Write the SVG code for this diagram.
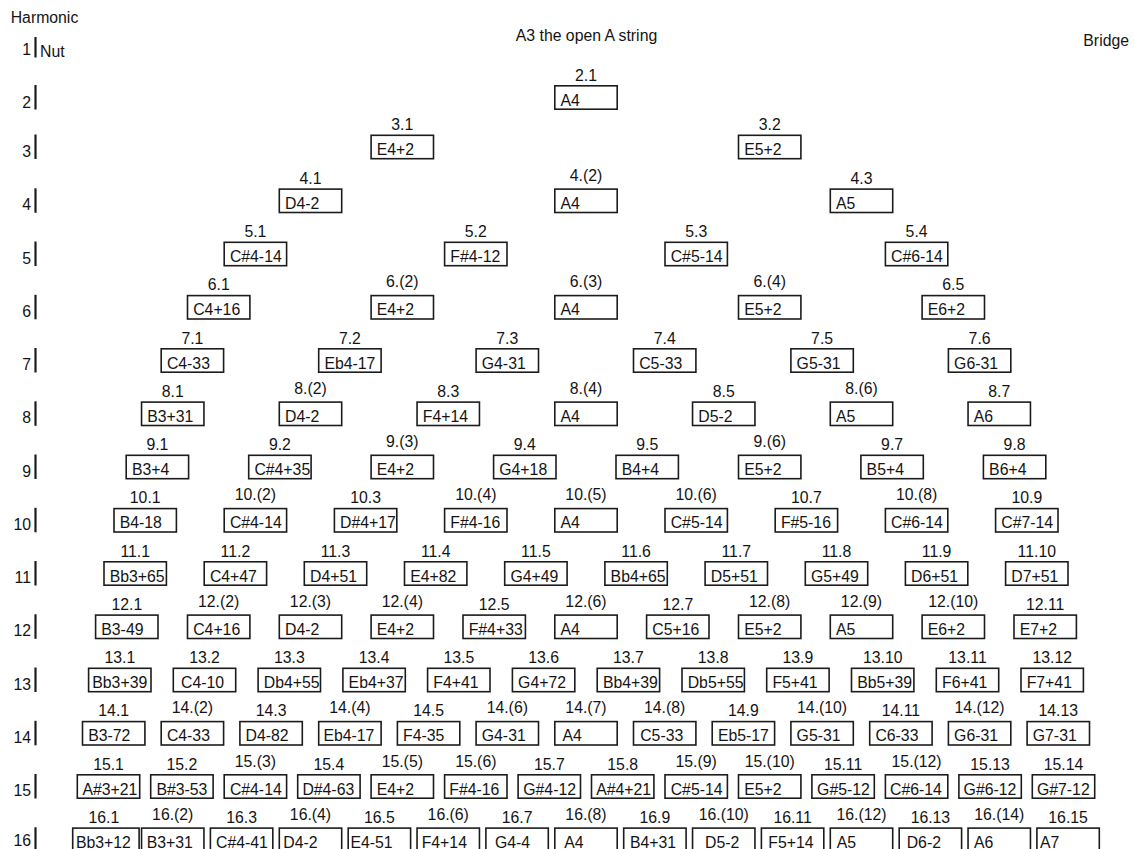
<svg xmlns="http://www.w3.org/2000/svg" width="1135" height="849" viewBox="0 0 1135 849">
<style>
text{font-family:"Liberation Sans",Arial,Helvetica,sans-serif;font-size:15.8px;fill:#141414}
rect{fill:none;stroke:#1c1c1c;stroke-width:1.6}
.l{text-anchor:middle}
.r{text-anchor:end}
line{stroke:#1c1c1c;stroke-width:2.2}
</style>
<rect x="0" y="0" width="1135" height="849" style="fill:#fff;stroke:none"/>
<g id="header">
<text x="10.7" y="22.5">Harmonic</text>
<text class="l" x="586.5" y="40.7">A3 the open A string</text>
<text class="r" x="1129" y="46.3">Bridge</text>
<text x="40" y="56.7">Nut</text>
</g>
<g id="rows">
<g id="row1"><text class="r" x="31" y="55">1</text><line x1="35.5" y1="37" x2="35.5" y2="57.5"/></g>
<g id="row2"><text class="r" x="31" y="107.5">2</text><line x1="35.5" y1="85" x2="35.5" y2="109.5"/></g>
<g id="row3"><text class="r" x="31" y="156.5">3</text><line x1="35.5" y1="134.5" x2="35.5" y2="159"/></g>
<g id="row4"><text class="r" x="31" y="210.3">4</text><line x1="35.5" y1="188.3" x2="35.5" y2="212.8"/></g>
<g id="row5"><text class="r" x="31" y="263.5">5</text><line x1="35.5" y1="241.5" x2="35.5" y2="266"/></g>
<g id="row6"><text class="r" x="31" y="316.8">6</text><line x1="35.5" y1="294.8" x2="35.5" y2="319.3"/></g>
<g id="row7"><text class="r" x="31" y="370">7</text><line x1="35.5" y1="348" x2="35.5" y2="372.5"/></g>
<g id="row8"><text class="r" x="31" y="423.3">8</text><line x1="35.5" y1="401.3" x2="35.5" y2="425.8"/></g>
<g id="row9"><text class="r" x="31" y="476.5">9</text><line x1="35.5" y1="454.5" x2="35.5" y2="479"/></g>
<g id="row10"><text class="r" x="31" y="529.8">10</text><line x1="35.5" y1="507.8" x2="35.5" y2="532.3"/></g>
<g id="row11"><text class="r" x="31" y="583">11</text><line x1="35.5" y1="561" x2="35.5" y2="585.5"/></g>
<g id="row12"><text class="r" x="31" y="636.3">12</text><line x1="35.5" y1="614.3" x2="35.5" y2="638.8"/></g>
<g id="row13"><text class="r" x="31" y="689.5">13</text><line x1="35.5" y1="667.5" x2="35.5" y2="692"/></g>
<g id="row14"><text class="r" x="31" y="742.8">14</text><line x1="35.5" y1="720.8" x2="35.5" y2="745.3"/></g>
<g id="row15"><text class="r" x="31" y="795.5">15</text><line x1="35.5" y1="774" x2="35.5" y2="798.5"/></g>
<g id="row16"><text class="r" x="31" y="846.3">16</text><line x1="35.5" y1="827.3" x2="35.5" y2="851.8"/></g>
</g>
<g id="nodes">
<g id="n2-1"><rect x="554.8" y="85.8" width="62.4" height="23.4"/><text class="l" x="586" y="80.5">2.1</text><text x="560.5" y="105.5">A4</text></g>

<g id="n3-1"><rect x="371.1" y="135.3" width="62.4" height="23.4"/><text class="l" x="402.3" y="130">3.1</text><text x="376.8" y="155">E4+2</text></g>
<g id="n3-2"><rect x="738.5" y="135.3" width="62.4" height="23.4"/><text class="l" x="769.7" y="130">3.2</text><text x="744.2" y="155">E5+2</text></g>

<g id="n4-1"><rect x="279.3" y="189.1" width="62.4" height="23.4"/><text class="l" x="310.5" y="183.8">4.1</text><text x="285" y="208.8">D4-2</text></g>
<g id="n4-2"><rect x="554.8" y="189.1" width="62.4" height="23.4"/><text class="l" x="586" y="180.8">4.(2)</text><text x="560.5" y="208.8">A4</text></g>
<g id="n4-3"><rect x="830.3" y="189.1" width="62.4" height="23.4"/><text class="l" x="861.5" y="183.8">4.3</text><text x="836" y="208.8">A5</text></g>

<g id="n5-1"><rect x="224.2" y="242.3" width="62.4" height="23.4"/><text class="l" x="255.4" y="237">5.1</text><text x="229.9" y="262">C#4-14</text></g>
<g id="n5-2"><rect x="444.6" y="242.3" width="62.4" height="23.4"/><text class="l" x="475.8" y="237">5.2</text><text x="450.3" y="262">F#4-12</text></g>
<g id="n5-3"><rect x="665" y="242.3" width="62.4" height="23.4"/><text class="l" x="696.2" y="237">5.3</text><text x="670.7" y="262">C#5-14</text></g>
<g id="n5-4"><rect x="885.4" y="242.3" width="62.4" height="23.4"/><text class="l" x="916.6" y="237">5.4</text><text x="891.1" y="262">C#6-14</text></g>

<g id="n6-1"><rect x="187.5" y="295.6" width="62.4" height="23.4"/><text class="l" x="218.7" y="290.3">6.1</text><text x="193.2" y="315.3">C4+16</text></g>
<g id="n6-2"><rect x="371.1" y="295.6" width="62.4" height="23.4"/><text class="l" x="402.3" y="287.3">6.(2)</text><text x="376.8" y="315.3">E4+2</text></g>
<g id="n6-3"><rect x="554.8" y="295.6" width="62.4" height="23.4"/><text class="l" x="586" y="287.3">6.(3)</text><text x="560.5" y="315.3">A4</text></g>
<g id="n6-4"><rect x="738.5" y="295.6" width="62.4" height="23.4"/><text class="l" x="769.7" y="287.3">6.(4)</text><text x="744.2" y="315.3">E5+2</text></g>
<g id="n6-5"><rect x="922.1" y="295.6" width="62.4" height="23.4"/><text class="l" x="953.3" y="290.3">6.5</text><text x="927.8" y="315.3">E6+2</text></g>

<g id="n7-1"><rect x="161.2" y="348.8" width="62.4" height="23.4"/><text class="l" x="192.4" y="343.5">7.1</text><text x="166.9" y="368.5">C4-33</text></g>
<g id="n7-2"><rect x="318.7" y="348.8" width="62.4" height="23.4"/><text class="l" x="349.9" y="343.5">7.2</text><text x="324.4" y="368.5">Eb4-17</text></g>
<g id="n7-3"><rect x="476.1" y="348.8" width="62.4" height="23.4"/><text class="l" x="507.3" y="343.5">7.3</text><text x="481.8" y="368.5">G4-31</text></g>
<g id="n7-4"><rect x="633.5" y="348.8" width="62.4" height="23.4"/><text class="l" x="664.7" y="343.5">7.4</text><text x="639.2" y="368.5">C5-33</text></g>
<g id="n7-5"><rect x="790.9" y="348.8" width="62.4" height="23.4"/><text class="l" x="822.1" y="343.5">7.5</text><text x="796.6" y="368.5">G5-31</text></g>
<g id="n7-6"><rect x="948.4" y="348.8" width="62.4" height="23.4"/><text class="l" x="979.6" y="343.5">7.6</text><text x="954.1" y="368.5">G6-31</text></g>

<g id="n8-1"><rect x="141.55" y="402.1" width="62.4" height="23.4"/><text class="l" x="172.75" y="396.8">8.1</text><text x="147.25" y="421.8">B3+31</text></g>
<g id="n8-2"><rect x="279.3" y="402.1" width="62.4" height="23.4"/><text class="l" x="310.5" y="393.8">8.(2)</text><text x="285" y="421.8">D4-2</text></g>
<g id="n8-3"><rect x="417.05" y="402.1" width="62.4" height="23.4"/><text class="l" x="448.25" y="396.8">8.3</text><text x="422.75" y="421.8">F4+14</text></g>
<g id="n8-4"><rect x="554.8" y="402.1" width="62.4" height="23.4"/><text class="l" x="586" y="393.8">8.(4)</text><text x="560.5" y="421.8">A4</text></g>
<g id="n8-5"><rect x="692.55" y="402.1" width="62.4" height="23.4"/><text class="l" x="723.75" y="396.8">8.5</text><text x="698.25" y="421.8">D5-2</text></g>
<g id="n8-6"><rect x="830.3" y="402.1" width="62.4" height="23.4"/><text class="l" x="861.5" y="393.8">8.(6)</text><text x="836" y="421.8">A5</text></g>
<g id="n8-7"><rect x="968.05" y="402.1" width="62.4" height="23.4"/><text class="l" x="999.25" y="396.8">8.7</text><text x="973.75" y="421.8">A6</text></g>

<g id="n9-1"><rect x="126.2" y="455.3" width="62.4" height="23.4"/><text class="l" x="157.4" y="450">9.1</text><text x="131.9" y="475">B3+4</text></g>
<g id="n9-2"><rect x="248.7" y="455.3" width="62.4" height="23.4"/><text class="l" x="279.9" y="450">9.2</text><text x="254.4" y="475">C#4+35</text></g>
<g id="n9-3"><rect x="371.1" y="455.3" width="62.4" height="23.4"/><text class="l" x="402.3" y="447">9.(3)</text><text x="376.8" y="475">E4+2</text></g>
<g id="n9-4"><rect x="493.6" y="455.3" width="62.4" height="23.4"/><text class="l" x="524.8" y="450">9.4</text><text x="499.3" y="475">G4+18</text></g>
<g id="n9-5"><rect x="616" y="455.3" width="62.4" height="23.4"/><text class="l" x="647.2" y="450">9.5</text><text x="621.7" y="475">B4+4</text></g>
<g id="n9-6"><rect x="738.5" y="455.3" width="62.4" height="23.4"/><text class="l" x="769.7" y="447">9.(6)</text><text x="744.2" y="475">E5+2</text></g>
<g id="n9-7"><rect x="860.9" y="455.3" width="62.4" height="23.4"/><text class="l" x="892.1" y="450">9.7</text><text x="866.6" y="475">B5+4</text></g>
<g id="n9-8"><rect x="983.4" y="455.3" width="62.4" height="23.4"/><text class="l" x="1014.6" y="450">9.8</text><text x="989.1" y="475">B6+4</text></g>

<g id="n10-1"><rect x="114" y="508.6" width="62.4" height="23.4"/><text class="l" x="145.2" y="503.3">10.1</text><text x="119.7" y="528.3">B4-18</text></g>
<g id="n10-2"><rect x="224.2" y="508.6" width="62.4" height="23.4"/><text class="l" x="255.4" y="500.3">10.(2)</text><text x="229.9" y="528.3">C#4-14</text></g>
<g id="n10-3"><rect x="334.4" y="508.6" width="62.4" height="23.4"/><text class="l" x="365.6" y="503.3">10.3</text><text x="340.1" y="528.3">D#4+17</text></g>
<g id="n10-4"><rect x="444.6" y="508.6" width="62.4" height="23.4"/><text class="l" x="475.8" y="500.3">10.(4)</text><text x="450.3" y="528.3">F#4-16</text></g>
<g id="n10-5"><rect x="554.8" y="508.6" width="62.4" height="23.4"/><text class="l" x="586" y="500.3">10.(5)</text><text x="560.5" y="528.3">A4</text></g>
<g id="n10-6"><rect x="665" y="508.6" width="62.4" height="23.4"/><text class="l" x="696.2" y="500.3">10.(6)</text><text x="670.7" y="528.3">C#5-14</text></g>
<g id="n10-7"><rect x="775.2" y="508.6" width="62.4" height="23.4"/><text class="l" x="806.4" y="503.3">10.7</text><text x="780.9" y="528.3">F#5-16</text></g>
<g id="n10-8"><rect x="885.4" y="508.6" width="62.4" height="23.4"/><text class="l" x="916.6" y="500.3">10.(8)</text><text x="891.1" y="528.3">C#6-14</text></g>
<g id="n10-9"><rect x="995.6" y="508.6" width="62.4" height="23.4"/><text class="l" x="1026.8" y="503.3">10.9</text><text x="1001.3" y="528.3">C#7-14</text></g>

<g id="n11-1"><rect x="104" y="561.8" width="62.4" height="23.4"/><text class="l" x="135.2" y="556.5">11.1</text><text x="109.7" y="581.5">Bb3+65</text></g>
<g id="n11-2"><rect x="204.2" y="561.8" width="62.4" height="23.4"/><text class="l" x="235.4" y="556.5">11.2</text><text x="209.9" y="581.5">C4+47</text></g>
<g id="n11-3"><rect x="304.3" y="561.8" width="62.4" height="23.4"/><text class="l" x="335.5" y="556.5">11.3</text><text x="310" y="581.5">D4+51</text></g>
<g id="n11-4"><rect x="404.5" y="561.8" width="62.4" height="23.4"/><text class="l" x="435.7" y="556.5">11.4</text><text x="410.2" y="581.5">E4+82</text></g>
<g id="n11-5"><rect x="504.7" y="561.8" width="62.4" height="23.4"/><text class="l" x="535.9" y="556.5">11.5</text><text x="510.4" y="581.5">G4+49</text></g>
<g id="n11-6"><rect x="604.9" y="561.8" width="62.4" height="23.4"/><text class="l" x="636.1" y="556.5">11.6</text><text x="610.6" y="581.5">Bb4+65</text></g>
<g id="n11-7"><rect x="705.1" y="561.8" width="62.4" height="23.4"/><text class="l" x="736.3" y="556.5">11.7</text><text x="710.8" y="581.5">D5+51</text></g>
<g id="n11-8"><rect x="805.3" y="561.8" width="62.4" height="23.4"/><text class="l" x="836.5" y="556.5">11.8</text><text x="811" y="581.5">G5+49</text></g>
<g id="n11-9"><rect x="905.4" y="561.8" width="62.4" height="23.4"/><text class="l" x="936.6" y="556.5">11.9</text><text x="911.1" y="581.5">D6+51</text></g>
<g id="n11-10"><rect x="1005.6" y="561.8" width="62.4" height="23.4"/><text class="l" x="1036.8" y="556.5">11.10</text><text x="1011.3" y="581.5">D7+51</text></g>

<g id="n12-1"><rect x="95.6" y="615.1" width="62.4" height="23.4"/><text class="l" x="126.8" y="609.8">12.1</text><text x="101.3" y="634.8">B3-49</text></g>
<g id="n12-2"><rect x="187.5" y="615.1" width="62.4" height="23.4"/><text class="l" x="218.7" y="606.8">12.(2)</text><text x="193.2" y="634.8">C4+16</text></g>
<g id="n12-3"><rect x="279.3" y="615.1" width="62.4" height="23.4"/><text class="l" x="310.5" y="606.8">12.(3)</text><text x="285" y="634.8">D4-2</text></g>
<g id="n12-4"><rect x="371.1" y="615.1" width="62.4" height="23.4"/><text class="l" x="402.3" y="606.8">12.(4)</text><text x="376.8" y="634.8">E4+2</text></g>
<g id="n12-5"><rect x="463" y="615.1" width="62.4" height="23.4"/><text class="l" x="494.2" y="609.8">12.5</text><text x="468.7" y="634.8">F#4+33</text></g>
<g id="n12-6"><rect x="554.8" y="615.1" width="62.4" height="23.4"/><text class="l" x="586" y="606.8">12.(6)</text><text x="560.5" y="634.8">A4</text></g>
<g id="n12-7"><rect x="646.6" y="615.1" width="62.4" height="23.4"/><text class="l" x="677.8" y="609.8">12.7</text><text x="652.3" y="634.8">C5+16</text></g>
<g id="n12-8"><rect x="738.5" y="615.1" width="62.4" height="23.4"/><text class="l" x="769.7" y="606.8">12.(8)</text><text x="744.2" y="634.8">E5+2</text></g>
<g id="n12-9"><rect x="830.3" y="615.1" width="62.4" height="23.4"/><text class="l" x="861.5" y="606.8">12.(9)</text><text x="836" y="634.8">A5</text></g>
<g id="n12-10"><rect x="922.1" y="615.1" width="62.4" height="23.4"/><text class="l" x="953.3" y="606.8">12.(10)</text><text x="927.8" y="634.8">E6+2</text></g>
<g id="n12-11"><rect x="1014" y="615.1" width="62.4" height="23.4"/><text class="l" x="1045.2" y="609.8">12.11</text><text x="1019.7" y="634.8">E7+2</text></g>

<g id="n13-1"><rect x="88.6" y="668.3" width="62.4" height="23.4"/><text class="l" x="119.8" y="663">13.1</text><text x="92.3" y="688">Bb3+39</text></g>
<g id="n13-2"><rect x="173.3" y="668.3" width="62.4" height="23.4"/><text class="l" x="204.5" y="663">13.2</text><text x="181" y="688">C4-10</text></g>
<g id="n13-3"><rect x="258.1" y="668.3" width="62.4" height="23.4"/><text class="l" x="289.3" y="663">13.3</text><text x="263.8" y="688">Db4+55</text></g>
<g id="n13-4"><rect x="342.9" y="668.3" width="62.4" height="23.4"/><text class="l" x="374.1" y="663">13.4</text><text x="348.6" y="688">Eb4+37</text></g>
<g id="n13-5"><rect x="427.6" y="668.3" width="62.4" height="23.4"/><text class="l" x="458.8" y="663">13.5</text><text x="433.3" y="688">F4+41</text></g>
<g id="n13-6"><rect x="512.4" y="668.3" width="62.4" height="23.4"/><text class="l" x="543.6" y="663">13.6</text><text x="518.1" y="688">G4+72</text></g>
<g id="n13-7"><rect x="597.2" y="668.3" width="62.4" height="23.4"/><text class="l" x="628.4" y="663">13.7</text><text x="602.9" y="688">Bb4+39</text></g>
<g id="n13-8"><rect x="682" y="668.3" width="62.4" height="23.4"/><text class="l" x="713.2" y="663">13.8</text><text x="687.7" y="688">Db5+55</text></g>
<g id="n13-9"><rect x="766.7" y="668.3" width="62.4" height="23.4"/><text class="l" x="797.9" y="663">13.9</text><text x="772.4" y="688">F5+41</text></g>
<g id="n13-10"><rect x="851.5" y="668.3" width="62.4" height="23.4"/><text class="l" x="882.7" y="663">13.10</text><text x="857.2" y="688">Bb5+39</text></g>
<g id="n13-11"><rect x="936.3" y="668.3" width="62.4" height="23.4"/><text class="l" x="967.5" y="663">13.11</text><text x="942" y="688">F6+41</text></g>
<g id="n13-12"><rect x="1021" y="668.3" width="62.4" height="23.4"/><text class="l" x="1052.2" y="663">13.12</text><text x="1026.7" y="688">F7+41</text></g>

<g id="n14-1"><rect x="82.5" y="721.6" width="62.4" height="23.4"/><text class="l" x="113.7" y="716.3">14.1</text><text x="88.2" y="741.3">B3-72</text></g>
<g id="n14-2"><rect x="161.2" y="721.6" width="62.4" height="23.4"/><text class="l" x="192.4" y="713.3">14.(2)</text><text x="166.9" y="741.3">C4-33</text></g>
<g id="n14-3"><rect x="239.9" y="721.6" width="62.4" height="23.4"/><text class="l" x="271.1" y="716.3">14.3</text><text x="245.6" y="741.3">D4-82</text></g>
<g id="n14-4"><rect x="318.7" y="721.6" width="62.4" height="23.4"/><text class="l" x="349.9" y="713.3">14.(4)</text><text x="323.4" y="741.3">Eb4-17</text></g>
<g id="n14-5"><rect x="397.4" y="721.6" width="62.4" height="23.4"/><text class="l" x="428.6" y="716.3">14.5</text><text x="403.1" y="741.3">F4-35</text></g>
<g id="n14-6"><rect x="476.1" y="721.6" width="62.4" height="23.4"/><text class="l" x="507.3" y="713.3">14.(6)</text><text x="481.8" y="741.3">G4-31</text></g>
<g id="n14-7"><rect x="554.8" y="721.6" width="62.4" height="23.4"/><text class="l" x="586" y="713.3">14.(7)</text><text x="562.5" y="741.3">A4</text></g>
<g id="n14-8"><rect x="633.5" y="721.6" width="62.4" height="23.4"/><text class="l" x="664.7" y="713.3">14.(8)</text><text x="640.2" y="741.3">C5-33</text></g>
<g id="n14-9"><rect x="712.2" y="721.6" width="62.4" height="23.4"/><text class="l" x="743.4" y="716.3">14.9</text><text x="717.9" y="741.3">Eb5-17</text></g>
<g id="n14-10"><rect x="790.9" y="721.6" width="62.4" height="23.4"/><text class="l" x="822.1" y="713.3">14.(10)</text><text x="796.6" y="741.3">G5-31</text></g>
<g id="n14-11"><rect x="869.7" y="721.6" width="62.4" height="23.4"/><text class="l" x="900.9" y="716.3">14.11</text><text x="875.4" y="741.3">C6-33</text></g>
<g id="n14-12"><rect x="948.4" y="721.6" width="62.4" height="23.4"/><text class="l" x="979.6" y="713.3">14.(12)</text><text x="954.1" y="741.3">G6-31</text></g>
<g id="n14-13"><rect x="1027.1" y="721.6" width="62.4" height="23.4"/><text class="l" x="1058.3" y="716.3">14.13</text><text x="1032.8" y="741.3">G7-31</text></g>

<g id="n15-1"><rect x="77.3" y="774.8" width="62.4" height="23.4"/><text class="l" x="108.5" y="769.5">15.1</text><text x="82.5" y="794.5">A#3+21</text></g>
<g id="n15-2"><rect x="150.7" y="774.8" width="62.4" height="23.4"/><text class="l" x="181.9" y="769.5">15.2</text><text x="156.4" y="794.5">B#3-53</text></g>
<g id="n15-3"><rect x="224.2" y="774.8" width="62.4" height="23.4"/><text class="l" x="255.4" y="766.5">15.(3)</text><text x="229.9" y="794.5">C#4-14</text></g>
<g id="n15-4"><rect x="297.7" y="774.8" width="62.4" height="23.4"/><text class="l" x="328.9" y="769.5">15.4</text><text x="302.4" y="794.5">D#4-63</text></g>
<g id="n15-5"><rect x="371.1" y="774.8" width="62.4" height="23.4"/><text class="l" x="402.3" y="766.5">15.(5)</text><text x="376.8" y="794.5">E4+2</text></g>
<g id="n15-6"><rect x="444.6" y="774.8" width="62.4" height="23.4"/><text class="l" x="475.8" y="766.5">15.(6)</text><text x="449.3" y="794.5">F#4-16</text></g>
<g id="n15-7"><rect x="518.1" y="774.8" width="62.4" height="23.4"/><text class="l" x="549.3" y="769.5">15.7</text><text x="523.3" y="794.5">G#4-12</text></g>
<g id="n15-8"><rect x="591.5" y="774.8" width="62.4" height="23.4"/><text class="l" x="622.7" y="769.5">15.8</text><text x="596.2" y="794.5">A#4+21</text></g>
<g id="n15-9"><rect x="665" y="774.8" width="62.4" height="23.4"/><text class="l" x="696.2" y="766.5">15.(9)</text><text x="670.7" y="794.5">C#5-14</text></g>
<g id="n15-10"><rect x="738.5" y="774.8" width="62.4" height="23.4"/><text class="l" x="769.7" y="766.5">15.(10)</text><text x="744.2" y="794.5">E5+2</text></g>
<g id="n15-11"><rect x="811.9" y="774.8" width="62.4" height="23.4"/><text class="l" x="843.1" y="769.5">15.11</text><text x="817.1" y="794.5">G#5-12</text></g>
<g id="n15-12"><rect x="885.4" y="774.8" width="62.4" height="23.4"/><text class="l" x="916.6" y="766.5">15.(12)</text><text x="890.1" y="794.5">C#6-14</text></g>
<g id="n15-13"><rect x="958.9" y="774.8" width="62.4" height="23.4"/><text class="l" x="990.1" y="769.5">15.13</text><text x="963.6" y="794.5">G#6-12</text></g>
<g id="n15-14"><rect x="1032.3" y="774.8" width="62.4" height="23.4"/><text class="l" x="1063.5" y="769.5">15.14</text><text x="1037" y="794.5">G#7-12</text></g>

<g id="n16-1"><rect x="72.7" y="828.1" width="66.4" height="23.4"/><text class="l" x="103.9" y="822.8">16.1</text><text x="76" y="847.8">Bb3+12</text></g>
<g id="n16-2"><rect x="141.55" y="828.1" width="62.4" height="23.4"/><text class="l" x="172.75" y="819.8">16.(2)</text><text x="146.7" y="847.8">B3+31</text></g>
<g id="n16-3"><rect x="210.4" y="828.1" width="62.4" height="23.4"/><text class="l" x="241.6" y="822.8">16.3</text><text x="216" y="847.8">C#4-41</text></g>
<g id="n16-4"><rect x="279.3" y="828.1" width="62.4" height="23.4"/><text class="l" x="310.5" y="819.8">16.(4)</text><text x="283.3" y="847.8">D4-2</text></g>
<g id="n16-5"><rect x="348.2" y="828.1" width="62.4" height="23.4"/><text class="l" x="379.4" y="822.8">16.5</text><text x="350.5" y="847.8">E4-51</text></g>
<g id="n16-6"><rect x="417.05" y="828.1" width="62.4" height="23.4"/><text class="l" x="448.25" y="819.8">16.(6)</text><text x="421.7" y="847.8">F4+14</text></g>
<g id="n16-7"><rect x="485.9" y="828.1" width="62.4" height="23.4"/><text class="l" x="517.1" y="822.8">16.7</text><text x="495" y="847.8">G4-4</text></g>
<g id="n16-8"><rect x="554.8" y="828.1" width="62.4" height="23.4"/><text class="l" x="586" y="819.8">16.(8)</text><text x="564.3" y="847.8">A4</text></g>
<g id="n16-9"><rect x="623.7" y="828.1" width="62.4" height="23.4"/><text class="l" x="654.9" y="822.8">16.9</text><text x="630" y="847.8">B4+31</text></g>
<g id="n16-10"><rect x="692.55" y="828.1" width="62.4" height="23.4"/><text class="l" x="723.75" y="819.8">16.(10)</text><text x="705" y="847.8">D5-2</text></g>
<g id="n16-11"><rect x="761.4" y="828.1" width="62.4" height="23.4"/><text class="l" x="792.6" y="822.8">16.11</text><text x="768.3" y="847.8">F5+14</text></g>
<g id="n16-12"><rect x="830.3" y="828.1" width="62.4" height="23.4"/><text class="l" x="861.5" y="819.8">16.(12)</text><text x="836.7" y="847.8">A5</text></g>
<g id="n16-13"><rect x="899.2" y="828.1" width="62.4" height="23.4"/><text class="l" x="930.4" y="822.8">16.13</text><text x="906.7" y="847.8">D6-2</text></g>
<g id="n16-14"><rect x="968.05" y="828.1" width="62.4" height="23.4"/><text class="l" x="999.25" y="819.8">16.(14)</text><text x="974" y="847.8">A6</text></g>
<g id="n16-15"><rect x="1036.9" y="828.1" width="62.4" height="23.4"/><text class="l" x="1068.1" y="822.8">16.15</text><text x="1040" y="847.8">A7</text></g>
</g>
<g id="connectors"/>
</svg>
